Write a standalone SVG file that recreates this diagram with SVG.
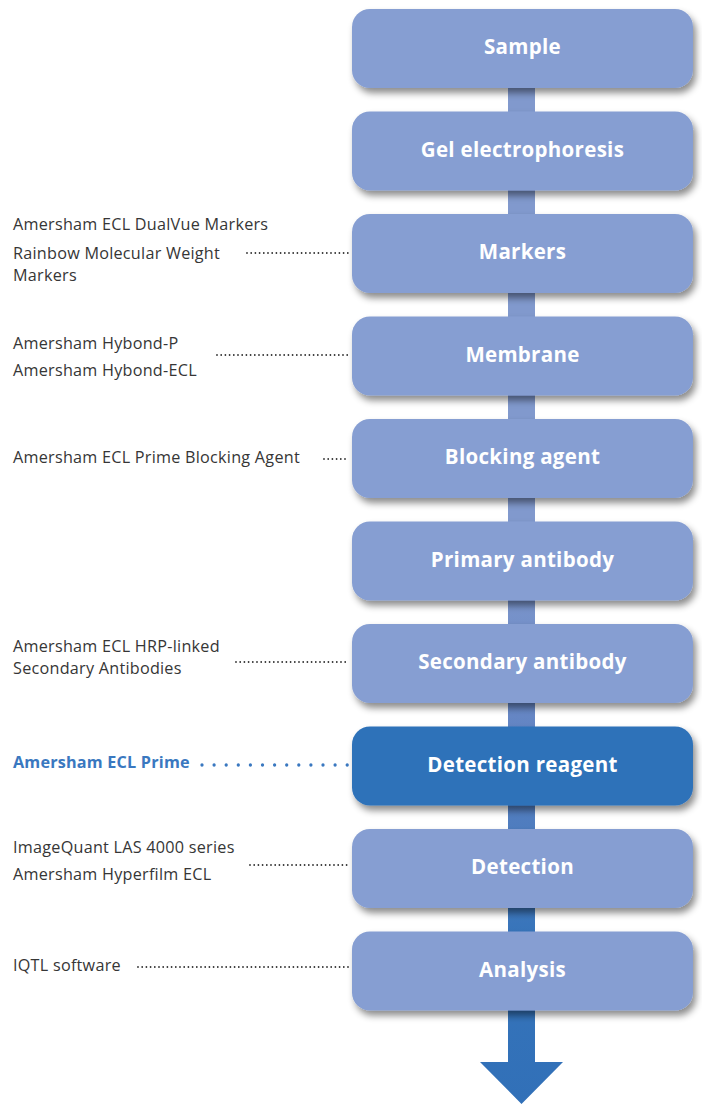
<svg xmlns="http://www.w3.org/2000/svg" width="702" height="1104" viewBox="0 0 702 1104">
<style>
.box{fill:#869ed2;filter:url(#sh)}
.hi{fill:#2f72b9;filter:url(#sh)}
.lbl{font-family:"Open Sans","Liberation Sans",sans-serif;font-weight:bold;font-size:20.5px;letter-spacing:0.3px;fill:#ffffff;text-anchor:middle}
.ann{font-family:"Open Sans","Liberation Sans",sans-serif;font-size:16.2px;letter-spacing:0.25px;fill:#363636}
.annb{font-family:"Open Sans","Liberation Sans",sans-serif;font-size:16.2px;letter-spacing:0.2px;font-weight:bold;fill:#3a78c0}
.dot{stroke:#333333;stroke-width:1.8;stroke-linecap:round;stroke-dasharray:0 4.2;fill:none}
.dotb{stroke:#3a78c0;stroke-width:3.3;stroke-linecap:round;stroke-dasharray:0 12.1;fill:none}
</style>
<defs>
<filter id="sh" x="-10%" y="-20%" width="125%" height="160%">
<feDropShadow dx="3" dy="5" stdDeviation="3.5" flood-color="#000" flood-opacity="0.45"/>
</filter>
<linearGradient id="stem" x1="0" y1="0" x2="0" y2="1104" gradientUnits="userSpaceOnUse">
<stop offset="0" stop-color="#8199cd"/>
<stop offset="0.5" stop-color="#8199cd"/>
<stop offset="0.68" stop-color="#5f82c2"/>
<stop offset="0.85" stop-color="#3674ba"/>
<stop offset="1" stop-color="#3170b8"/>
</linearGradient>
</defs>
<rect width="702" height="1104" fill="#ffffff"/>
<g id="connectors">
<path d="M508,50 H535 V1062 H563 L521.5,1104 L480,1062 H508 Z" fill="url(#stem)"/>
<line class="dot" x1="247" y1="253" x2="348.5" y2="253"/>
<line class="dot" x1="217" y1="355" x2="348.5" y2="355"/>
<line class="dot" x1="324" y1="459" x2="348.5" y2="459"/>
<line class="dot" x1="236" y1="662" x2="348.5" y2="662"/>
<line class="dotb" x1="202" y1="765" x2="348" y2="765"/>
<line class="dot" x1="250" y1="865" x2="348.5" y2="865"/>
<line class="dot" x1="138" y1="967" x2="348.5" y2="967"/>
</g>
<g id="n-sample"><rect class="box" x="352" y="9" width="341" height="79" rx="18"/><text class="lbl" x="522.5" y="54">Sample</text></g>
<g id="n-gel"><rect class="box" x="352" y="111.5" width="341" height="79" rx="18"/><text class="lbl" x="522.5" y="156.5">Gel electrophoresis</text></g>
<g id="n-markers"><rect class="box" x="352" y="214" width="341" height="79" rx="18"/><text class="lbl" x="522.5" y="259">Markers</text>
<text class="ann" x="13" y="230">Amersham ECL DualVue Markers</text>
<text class="ann" x="13" y="259">Rainbow Molecular Weight</text>
<text class="ann" x="13" y="281">Markers</text></g>
<g id="n-membrane"><rect class="box" x="352" y="316.5" width="341" height="79" rx="18"/><text class="lbl" x="522.5" y="361.5">Membrane</text>
<text class="ann" x="13" y="349">Amersham Hybond-P</text>
<text class="ann" x="13" y="376">Amersham Hybond-ECL</text></g>
<g id="n-blocking"><rect class="box" x="352" y="419" width="341" height="79" rx="18"/><text class="lbl" x="522.5" y="464">Blocking agent</text>
<text class="ann" x="13" y="463">Amersham ECL Prime Blocking Agent</text></g>
<g id="n-primary"><rect class="box" x="352" y="521.5" width="341" height="79" rx="18"/><text class="lbl" x="522.5" y="566.5">Primary antibody</text></g>
<g id="n-secondary"><rect class="box" x="352" y="624" width="341" height="79" rx="18"/><text class="lbl" x="522.5" y="669">Secondary antibody</text>
<text class="ann" x="13" y="652">Amersham ECL HRP-linked</text>
<text class="ann" x="13" y="674">Secondary Antibodies</text></g>
<g id="n-reagent"><rect class="hi" x="352" y="726.5" width="341" height="79" rx="18"/><text class="lbl" x="522.5" y="771.5">Detection reagent</text>
<text class="annb" x="13" y="768">Amersham ECL Prime</text></g>
<g id="n-detection"><rect class="box" x="352" y="829" width="341" height="79" rx="18"/><text class="lbl" x="522.5" y="874">Detection</text>
<text class="ann" x="13" y="853">ImageQuant LAS 4000 series</text>
<text class="ann" x="13" y="880">Amersham Hyperfilm ECL</text></g>
<g id="n-analysis"><rect class="box" x="352" y="931.5" width="341" height="79" rx="18"/><text class="lbl" x="522.5" y="976.5">Analysis</text>
<text class="ann" x="13" y="971">IQTL software</text></g>
</svg>
